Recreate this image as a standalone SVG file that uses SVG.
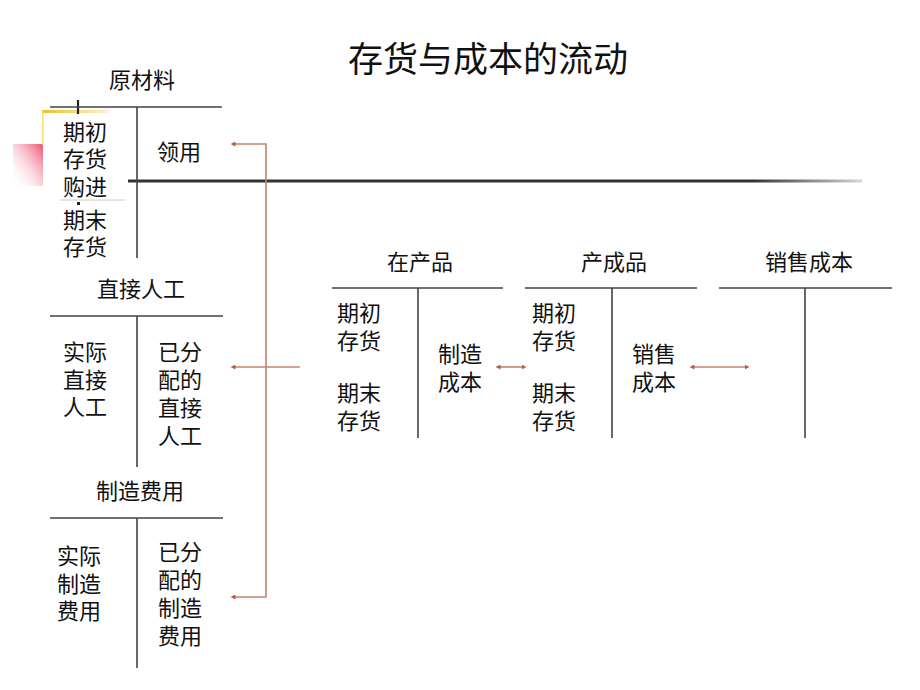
<svg xmlns="http://www.w3.org/2000/svg" width="920" height="690" viewBox="0 0 920 690">
<defs>
<style>
text{font-family:"Noto Sans CJK SC","Liberation Sans",sans-serif;fill:#111;font-size:22px}
.title{font-size:35px;text-anchor:middle}
.hd{text-anchor:middle}
.t{stroke:#444;stroke-width:1.6;fill:none}
.c{stroke:#c4846e;stroke-width:1.6;fill:none}
</style>
<marker id="ah" viewBox="0 0 6 6" refX="3" refY="3" markerWidth="5" markerHeight="5" orient="auto-start-reverse" markerUnits="userSpaceOnUse">
<path d="M0,0 L6,3 L0,6 Z" fill="#c0584a"/>
</marker>
<linearGradient id="pink" x1="1" y1="0" x2="0" y2="1">
<stop offset="0" stop-color="#ee5070"/>
<stop offset="1" stop-color="#fff" stop-opacity="0"/>
</linearGradient>
<linearGradient id="yel" x1="0" y1="0" x2="1" y2="0">
<stop offset="0" stop-color="#f0c020"/>
<stop offset="1" stop-color="#f0c020" stop-opacity="0.2"/>
</linearGradient>
<linearGradient id="bar" x1="0" y1="0" x2="1" y2="0">
<stop offset="0.85" stop-color="#333"/>
<stop offset="1" stop-color="#333" stop-opacity="0.2"/>
</linearGradient>
</defs>
<rect width="920" height="690" fill="#fff"/>
<text class="title" x="488" y="72">存货与成本的流动</text>

<g id="deco">
<rect x="13" y="144" width="30" height="42" fill="url(#pink)"/>
<rect x="42" y="110" width="66" height="3" fill="url(#yel)"/>
<rect x="42" y="111" width="1.5" height="34" fill="#f4dc80"/>
<line x1="78" y1="100" x2="78" y2="114" stroke="#222" stroke-width="2.2"/>
<line x1="60" y1="200" x2="125" y2="200" stroke="#ccc" stroke-width="1"/>
<rect x="77" y="202" width="3" height="3" fill="#222"/>
<rect x="128" y="179.5" width="734" height="3" fill="url(#bar)"/>
</g>

<g id="raw-materials">
<text class="hd" x="142" y="88">原材料</text>
<path class="t" d="M50,107 H222 M137,107 V258"/>
<text x="63" y="140">期初<tspan x="63" y="167">存货</tspan><tspan x="63" y="195">购进</tspan><tspan x="63" y="228">期末</tspan><tspan x="63" y="255">存货</tspan></text>
<text x="157" y="160">领用</text>
</g>

<g id="direct-labor">
<text class="hd" x="141" y="297">直接人工</text>
<path class="t" d="M50,316 H223 M137,316 V467"/>
<text x="63" y="360">实际<tspan x="63" y="388">直接</tspan><tspan x="63" y="415">人工</tspan></text>
<text x="158" y="360">已分<tspan x="158" y="388">配的</tspan><tspan x="158" y="416">直接</tspan><tspan x="158" y="444">人工</tspan></text>
</g>

<g id="overhead">
<text class="hd" x="140" y="499">制造费用</text>
<path class="t" d="M50,518 H223 M137,518 V668"/>
<text x="57" y="564">实际<tspan x="57" y="592">制造</tspan><tspan x="57" y="619">费用</tspan></text>
<text x="158" y="560">已分<tspan x="158" y="588">配的</tspan><tspan x="158" y="616">制造</tspan><tspan x="158" y="644">费用</tspan></text>
</g>

<g id="wip">
<text class="hd" x="420" y="270">在产品</text>
<path class="t" d="M332,288 H503 M418,288 V438"/>
<text x="337" y="321">期初<tspan x="337" y="349">存货</tspan></text>
<text x="337" y="401">期末<tspan x="337" y="429">存货</tspan></text>
<text x="438" y="362">制造<tspan x="438" y="390">成本</tspan></text>
</g>

<g id="finished-goods">
<text class="hd" x="614" y="270">产成品</text>
<path class="t" d="M525,288 H697 M612,288 V438"/>
<text x="532" y="321">期初<tspan x="532" y="349">存货</tspan></text>
<text x="532" y="401">期末<tspan x="532" y="429">存货</tspan></text>
<text x="632" y="362">销售<tspan x="632" y="390">成本</tspan></text>
</g>

<g id="cogs">
<text class="hd" x="809" y="270">销售成本</text>
<path class="t" d="M719,288 H892 M805,288 V438"/>
</g>

<g id="connectors">
<path class="c" d="M233,144 H266 V597 H233" marker-start="url(#ah)" marker-end="url(#ah)"/>
<path class="c" d="M233,367 H300" marker-start="url(#ah)"/>
<path class="c" d="M498,367 H524" marker-start="url(#ah)" marker-end="url(#ah)"/>
<path class="c" d="M692,367 H747" marker-start="url(#ah)" marker-end="url(#ah)"/>
</g>
</svg>
